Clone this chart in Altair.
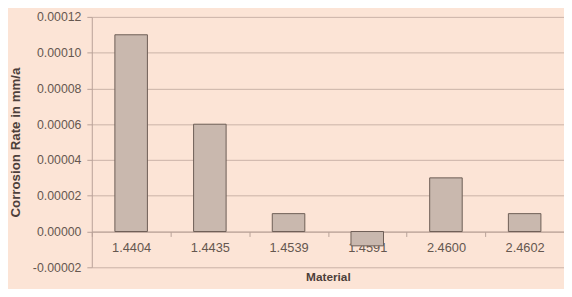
import altair as alt
import pandas as pd

materials = ["1.4404", "1.4435", "1.4539", "1.4591", "2.4600", "2.4602"]
rates = [0.00011, 0.00006, 0.00001, -0.000008, 0.00003, 0.00001]

df = pd.DataFrame({"Material": materials, "Rate": rates})

H = 254
zero_offset = H * 0.00002 / 0.00014

bars = alt.Chart(df).mark_bar(
    size=33, color="#c9b8ae", stroke="#6d5d55", strokeWidth=1
).encode(
    x=alt.X("Material:N", sort=materials,
            scale=alt.Scale(paddingInner=0, paddingOuter=0),
            axis=alt.Axis(title="Material", orient="bottom", offset=-zero_offset,
                          labelAngle=0, tickBand="extent", tickSize=5,
                          tickColor="#b8a298", domainColor="#b8a298",
                          labelPadding=5, labelFontSize=13, labelColor="#65574f",
                          labelFont="Liberation Sans",
                          titleFont="Liberation Sans", titleFontSize=12,
                          titleFontWeight="bold", titleColor="#4d3f3a",
                          titleY=53, titleBaseline="bottom", grid=False)),
    y=alt.Y("Rate:Q",
            scale=alt.Scale(domain=[-0.00002, 0.00012], nice=False, zero=False),
            axis=alt.Axis(title="Corrosion Rate in mm/a", format=".5f",
                          labelExpr="replace(datum.label, '\u2212', '-')",
                          values=[-0.00002, 0.0, 0.00002, 0.00004, 0.00006,
                                  0.00008, 0.0001, 0.00012],
                          tickSize=5, tickColor="#b8a298", domainColor="#b8a298",
                          labelPadding=6, labelFontSize=12.5, labelColor="#65574f",
                          labelFont="Liberation Sans",
                          gridColor="#c9b2a7", gridWidth=1,
                          titleFont="Liberation Sans", titleFontSize=13.5,
                          titleFontWeight="bold", titleColor="#4d3f3a",
                          titleX=-77, titleBaseline="middle")),
)

chart = bars.properties(
    width=479, height=H,
    autosize=alt.AutoSizeParams(type="none"),
    padding={"left": 85, "top": 7, "right": 0, "bottom": 20},
    background="#fce4d6",
).configure_view(stroke=None)

chart.save("out.html", embed_options={"renderer": "svg", "actions": False})
